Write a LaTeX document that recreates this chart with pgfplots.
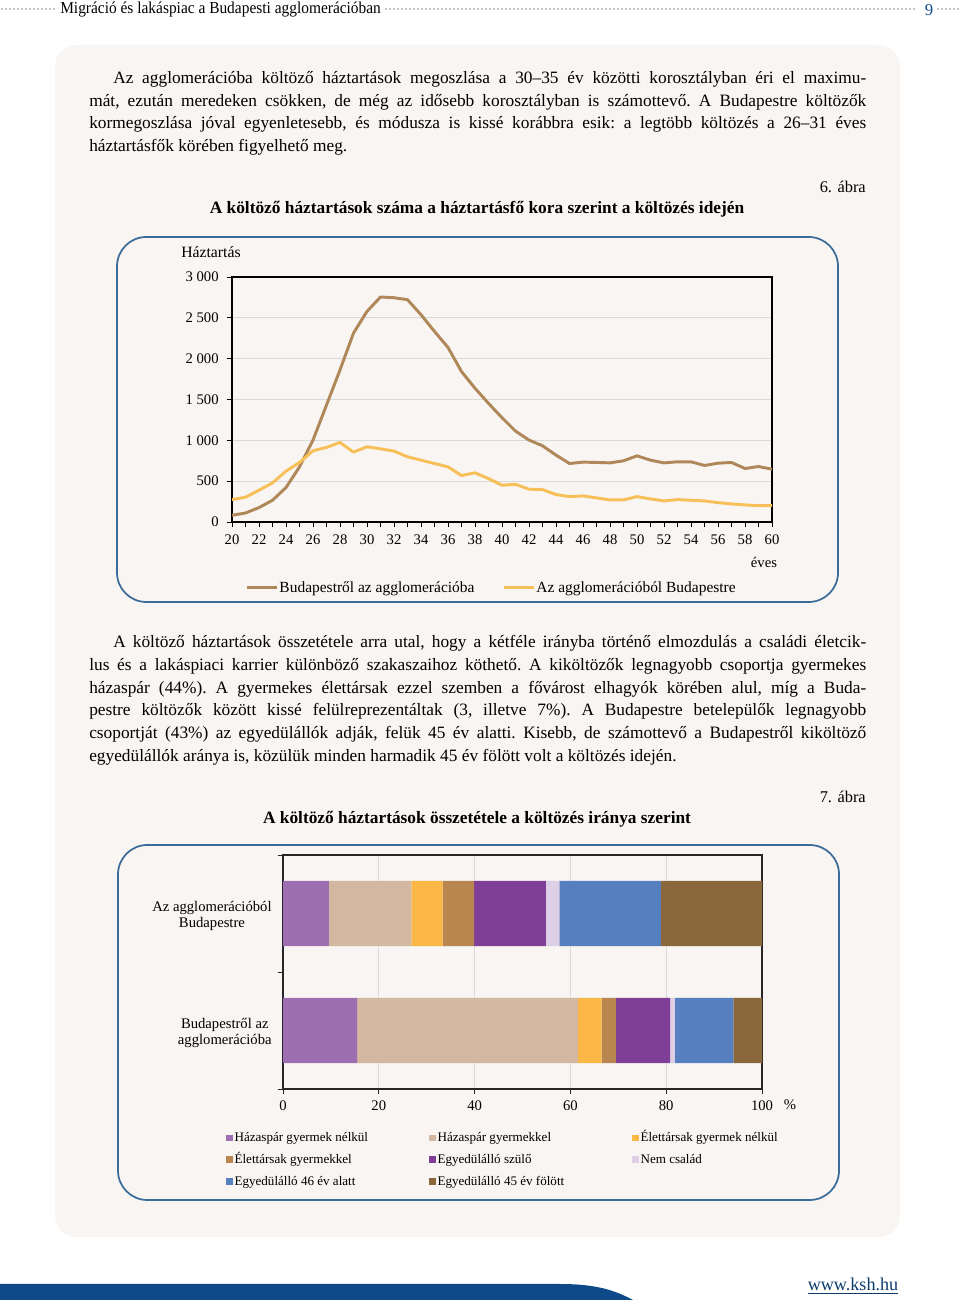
\documentclass[border=0pt]{standalone}
\usepackage{fontspec}
\setmainfont{Liberation Serif}
\usepackage{pgfplots}
\pgfplotsset{compat=1.18}

\definecolor{panel}{HTML}{F8F5F2}
\definecolor{frameblue}{HTML}{3A6B99}
\definecolor{kshblue}{HTML}{0E4A8A}
\definecolor{headdots}{HTML}{7E8C9C}
\definecolor{lbrown}{HTML}{B08759}
\definecolor{lyellow}{HTML}{F7BF58}
\definecolor{cA}{HTML}{9D6FB0}
\definecolor{cB}{HTML}{D4B7A0}
\definecolor{cC}{HTML}{FBB847}
\definecolor{cD}{HTML}{B8864E}
\definecolor{cE}{HTML}{7F3F98}
\definecolor{cF}{HTML}{DDCFE6}
\definecolor{cG}{HTML}{557FBF}
\definecolor{cH}{HTML}{8B683B}

\newcommand{\body}{\frenchspacing\fontsize{13}{17}\selectfont}
\newcommand{\fl}[1]{\makebox[582.75pt][s]{#1}}
\newcommand{\il}[1]{\makebox[564.75pt][s]{#1}}

\begin{document}
\begin{tikzpicture}[x=0.75pt,y=0.75pt]
\path[use as bounding box] (0,0) rectangle (960,1308);
\fill[white] (0,0) rectangle (960,1308);

% everything but the axes: y measured downwards from the top edge
\begin{scope}[shift={(0,1308)}, yscale=-1]
% header
\draw[headdots, line width=1.4pt, line cap=round, dash pattern=on 0pt off 3pt] (2,9) -- (56,9);
\draw[headdots, line width=1.4pt, line cap=round, dash pattern=on 0pt off 3pt] (386,9) -- (916,9);
\draw[headdots, line width=1.4pt, line cap=round, dash pattern=on 0pt off 3pt] (938,9) -- (960,9);
\node[anchor=west, inner sep=0pt] at (60,10) {\scalebox{0.925}[1]{\fontsize{12.5}{13}\selectfont Migráció és lakáspiac a Budapesti agglomerációban}};
\node[anchor=center, inner sep=0pt, text=kshblue] at (929,10) {\fontsize{12.5}{13}\selectfont 9};

% panel
\fill[panel, rounded corners=16pt] (55,45) rectangle (900,1237);

% paragraph 1
\begin{scope}[every node/.style={anchor=base west, inner sep=0pt}]
\node at (113,84) {\body\il{Az agglomerációba költöző háztartások megoszlása a 30–35 év közötti korosztályban éri el maximu-}};
\node at (89,107) {\body\fl{mát, ezután meredeken csökken, de még az idősebb korosztályban is számottevő. A Budapestre költözők}};
\node at (89,129) {\body\fl{kormegoszlása jóval egyenletesebb, és módusza is kissé korábbra esik: a legtöbb költözés a 26–31 éves}};
\node at (89,152) {\body háztartásfők körében figyelhető meg.};
% paragraph 2
\node at (113,648) {\body\il{A költöző háztartások összetétele arra utal, hogy a kétféle irányba történő elmozdulás a családi életcik-}};
\node at (89,671) {\body\fl{lus és a lakáspiaci karrier különböző szakaszaihoz köthető. A kiköltözők legnagyobb csoportja gyermekes}};
\node at (89,694) {\body\fl{házaspár (44\%). A gyermekes élettársak ezzel szemben a fővárost elhagyók körében alul, míg a Buda-}};
\node at (89,716) {\body\fl{pestre költözők között kissé felülreprezentáltak (3, illetve 7\%). A Budapestre betelepülők legnagyobb}};
\node at (89,739) {\body\fl{csoportját (43\%) az egyedülállók adják, felük 45 év alatti. Kisebb, de számottevő a Budapestről kiköltöző}};
\node at (89,762) {\body egyedülállók aránya is, közülük minden harmadik 45 év fölött volt a költözés idején.};
\end{scope}

% titles
\node[anchor=center, inner sep=0pt] at (477,209) {\fontsize{13}{15}\selectfont\bfseries A költöző háztartások száma a háztartásfő kora szerint a költözés idején};
\node[anchor=east, inner sep=0pt] at (866,187) {\fontsize{12.3}{14}\selectfont 6. ábra};
\node[anchor=center, inner sep=0pt] at (477,819) {\fontsize{13}{15}\selectfont\bfseries A költöző háztartások összetétele a költözés iránya szerint};
\node[anchor=east, inner sep=0pt] at (866,797) {\fontsize{12.3}{14}\selectfont 7. ábra};

% frames
\draw[frameblue, line width=1.3pt, rounded corners=22pt] (117,237) rectangle (838,602);
\draw[frameblue, line width=1.3pt, rounded corners=22pt] (118,845) rectangle (839,1200);

% loose chart texts
\node[anchor=west, inner sep=0pt] at (181,252) {\fontsize{11.8}{13}\selectfont Háztartás};
\node[anchor=center, inner sep=0pt] at (764,562) {\fontsize{11}{12}\selectfont éves};
\node[anchor=center, inner sep=0pt] at (790,1105) {\fontsize{11}{12}\selectfont\%};

% where the two axis boxes start (lower left corners)
\coordinate (lineSW) at (232,522);
\coordinate (barSW) at (283,1089);

% footer
\fill[kshblue] (0,1284) -- (560,1284) .. controls (598,1284) and (616,1291) .. (633,1300) -- (0,1300) -- cycle;
\node[anchor=center, inner sep=0pt, text=kshblue!80!black] at (853,1286) {\fontsize{13.6}{15}\selectfont\underline{www.ksh.hu}};
\end{scope}

% line chart (axis box: x 232-772, y 277-522 from top)
\begin{axis}[
    at={(lineSW)}, anchor=south west,
    scale only axis, width=405pt, height=183.75pt,
    xmin=20, xmax=60, ymin=0, ymax=3000,
    xtick={20,22,...,60}, minor xtick={21,23,...,59},
    ytick={0,500,...,3000},
    tick pos=left, tick align=outside,
    major tick length=4pt, minor tick length=4pt,
    ymajorgrids, grid style={gray!30, line width=0.6pt},
    axis background/.style={fill=panel},
    axis line style={black, line width=0.8pt},
    tick style={black, line width=0.6pt},
    ticklabel style={font=\fontsize{11}{12}\selectfont},
    xticklabel style={yshift=-2.2pt},
    yticklabel style={xshift=-2.5pt},
    /pgf/number format/assume math mode=true,
    /pgf/number format/1000 sep={\ },
    legend columns=2,
    legend style={at={(0.024,-0.2688)}, anchor=west, draw=none, fill=none,
        inner sep=0pt, font=\fontsize{11.6}{13}\selectfont,
        nodes={inner sep=1pt}},
    legend image code/.code={\draw[#1] (0pt,0pt) -- (22.5pt,0pt);},
    legend entries={\makebox[166pt][l]{Budapestről az agglomerációba}, Az agglomerációból Budapestre},
]
\addplot[lbrown, line width=2.2pt, line join=round] coordinates {
(20,82) (21,110) (22,176) (23,266) (24,422) (25,675) (26,1003) (27,1432) (28,1862) (29,2313)
(30,2579) (31,2755) (32,2746) (33,2722) (34,2538) (35,2333) (36,2137) (37,1842) (38,1637) (39,1453)
(40,1277) (41,1113) (42,1003) (43,933) (44,819) (45,716) (46,733) (47,729) (48,724) (49,749)
(50,810) (51,757) (52,724) (53,737) (54,737) (55,692) (56,720) (57,729) (58,655) (59,679) (60,647)
};
\addplot[lyellow, line width=2.2pt, line join=round] coordinates {
(20,274) (21,303) (22,389) (23,479) (24,622) (25,729) (26,872) (27,913) (28,974) (29,855)
(30,921) (31,896) (32,868) (33,798) (34,757) (35,716) (36,675) (37,569) (38,602) (39,532)
(40,450) (41,462) (42,401) (43,397) (44,336) (45,311) (46,319) (47,295) (48,270) (49,270)
(50,311) (51,282) (52,258) (53,274) (54,266) (55,258) (56,237) (57,221) (58,209) (59,200) (60,200)
};
\end{axis}

% stacked bar chart (axis box: x 283-762, y 855-1089 from top)
\begin{axis}[
    at={(barSW)}, anchor=south west,
    scale only axis, width=359.25pt, height=175.5pt,
    xbar stacked, bar width=0.556,
    xmin=0, xmax=100, ymin=-0.5, ymax=1.5,
    xtick={0,20,...,100},
    ytick={-0.5,0.5,1.5}, yticklabels={},
    extra y ticks={0,1},
    extra y tick labels={Budapestről az\\agglomerációba, Az agglomerációból\\Budapestre},
    extra y tick style={major tick length=0pt, grid=none,
        yticklabel style={align=center, xshift=-5pt, yshift=-2.2pt, font=\fontsize{11}{12}\selectfont}},
    tick pos=left, tick align=outside, major tick length=4pt,
    xmajorgrids, grid style={gray!30, line width=0.6pt},
    axis background/.style={fill=panel},
    axis line style={black!85, line width=0.8pt},
    tick style={black!85, line width=0.6pt},
    ticklabel style={font=\fontsize{11}{12}\selectfont},
    xticklabel style={yshift=-1.5pt},
    /pgf/number format/assume math mode=true,
    legend columns=3,
    legend style={at={(-0.119,-0.174)}, anchor=north west, draw=none, fill=none,
        inner sep=0pt, row sep=4.4pt, font=\fontsize{9.8}{11}\selectfont,
        nodes={inner sep=1pt, text height=7.5pt, text depth=2.5pt}},
    legend image code/.code={\fill[#1, draw=none] (0pt,-2.6pt) rectangle (5.25pt,2.6pt);},
]
\addplot[fill=cA, draw=none] coordinates {(15.5,0) (9.6,1)};
\addlegendentry{\makebox[145pt][l]{Házaspár gyermek nélkül}}
\addplot[fill=cB, draw=none] coordinates {(46.1,0) (17.2,1)};
\addlegendentry{\makebox[145pt][l]{Házaspár gyermekkel}}
\addplot[fill=cC, draw=none] coordinates {(4.9,0) (6.5,1)};
\addlegendentry{\makebox[145pt][l]{Élettársak gyermek nélkül}}
\addplot[fill=cD, draw=none] coordinates {(3.0,0) (6.6,1)};
\addlegendentry{\makebox[145pt][l]{Élettársak gyermekkel}}
\addplot[fill=cE, draw=none] coordinates {(11.3,0) (15.0,1)};
\addlegendentry{\makebox[145pt][l]{Egyedülálló szülő}}
\addplot[fill=cF, draw=none] coordinates {(1.0,0) (2.8,1)};
\addlegendentry{\makebox[145pt][l]{Nem család}}
\addplot[fill=cG, draw=none] coordinates {(12.2,0) (21.2,1)};
\addlegendentry{\makebox[145pt][l]{Egyedülálló 46 év alatt}}
\addplot[fill=cH, draw=none] coordinates {(6.0,0) (21.1,1)};
\addlegendentry{\makebox[145pt][l]{Egyedülálló 45 év fölött}}
\end{axis}
\end{tikzpicture}
\end{document}
